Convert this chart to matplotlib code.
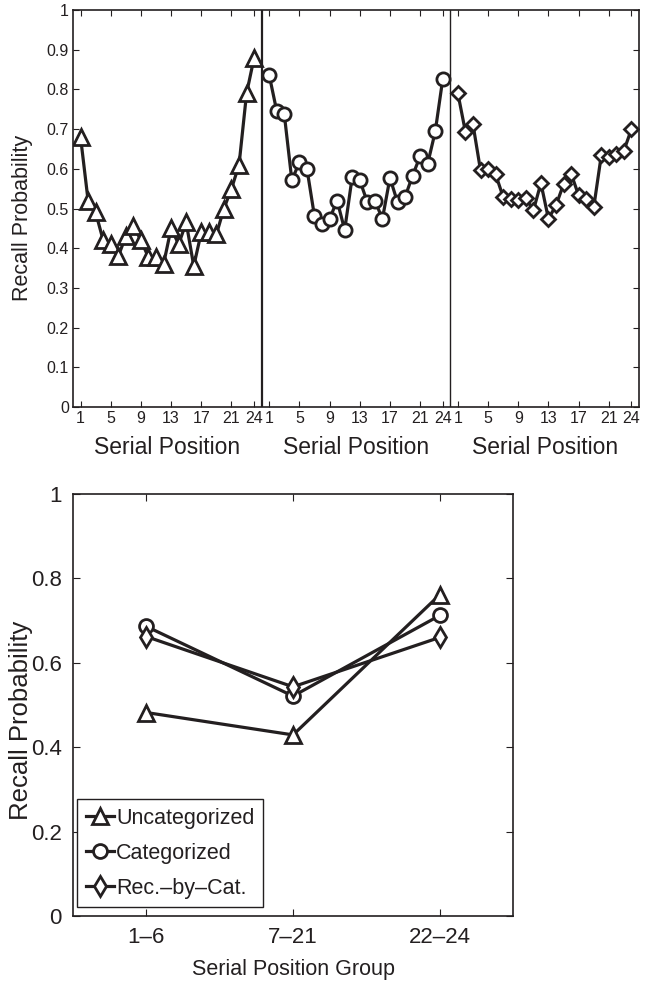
import matplotlib
matplotlib.use('Agg')
import matplotlib.pyplot as plt
from matplotlib.ticker import FuncFormatter
import numpy as np

plt.rcParams['font.family'] = ['Liberation Sans', 'DejaVu Sans']

# serial position curves (top panel)
positions = list(range(1, 25))
uncategorized = [0.68, 0.52, 0.49, 0.42, 0.41, 0.38, 0.43, 0.457, 0.42, 0.377, 0.377, 0.36,
                 0.45, 0.41, 0.465, 0.355, 0.44, 0.44, 0.435, 0.50, 0.55, 0.61, 0.79, 0.88]
categorized = [0.836, 0.745, 0.737, 0.571, 0.617, 0.60, 0.48, 0.46, 0.474, 0.52, 0.446, 0.58,
               0.571, 0.516, 0.52, 0.474, 0.577, 0.516, 0.529, 0.583, 0.632, 0.613, 0.694, 0.827]
rec_by_cat = [0.79, 0.693, 0.712, 0.596, 0.60, 0.586, 0.529, 0.524, 0.522, 0.527, 0.495, 0.564,
              0.474, 0.508, 0.561, 0.588, 0.533, 0.524, 0.503, 0.634, 0.63, 0.638, 0.646, 0.70]
tick_pos = [1, 5, 9, 13, 17, 21, 24]

# grouped (bottom panel)
groups = ['1\u20136', '7\u201321', '22\u201324']
grp_uncat = [0.482, 0.429, 0.761]
grp_cat = [0.686, 0.521, 0.712]
grp_rbc = [0.662, 0.543, 0.660]

col = '#231f20'
fmt = FuncFormatter(lambda v, p: ('%g' % round(v, 2)))

fig = plt.figure(figsize=(6.5, 9.81), dpi=100)

# ---- top panel
ax1 = fig.add_axes([0.1123, 0.5851, 0.8708, 0.4047])
series = [(uncategorized, '^', 12), (categorized, 'o', 9.5), (rec_by_cat, 'D', 7.5)]
xt, xl = [], []
for k, (vals, mk, ms) in enumerate(series):
    off = 25 * k
    ax1.plot([p + off for p in positions], vals, color=col, lw=2.3, marker=mk, ms=ms,
             mfc='white', mec=col, mew=2.0)
    xt += [t + off for t in tick_pos]
    xl += [str(t) for t in tick_pos]
    ax1.text(12.5 + off, -0.102, 'Serial Position', transform=ax1.get_xaxis_transform(),
             ha='center', va='center', fontsize=16.5, color=col)
ax1.axvline(25, color=col, lw=1.6)
ax1.axvline(50, color=col, lw=1.0)
ax1.set_xlim(0, 75)
ax1.set_ylim(0, 1)
ax1.set_xticks(xt)
ax1.set_xticklabels(xl)
ax1.set_yticks(np.arange(0, 1.01, 0.1))
ax1.yaxis.set_major_formatter(fmt)
ax1.tick_params(direction='in', top=True, right=True, length=4, labelsize=11.5, colors=col, pad=3)
ax1.set_ylabel('Recall Probability', fontsize=15.5, color=col)
ax1.yaxis.set_label_coords(-0.071, 0.476)
for s in ax1.spines.values():
    s.set_linewidth(1.2)
    s.set_color(col)

# ---- bottom panel
ax2 = fig.add_axes([0.1123, 0.0663, 0.677, 0.4302])
xg = [1, 2, 3]
ax2.plot(xg, grp_uncat, color=col, lw=2.3, marker='^', ms=12, mfc='white', mec=col, mew=2.0,
         label='Uncategorized')
ax2.plot(xg, grp_cat, color=col, lw=2.3, marker='o', ms=10, mfc='white', mec=col, mew=2.0,
         label='Categorized')
ax2.plot(xg, grp_rbc, color=col, lw=2.3, marker='d', ms=10.5, mfc='white', mec=col, mew=2.0,
         label='Rec.\u2013by\u2013Cat.')
ax2.set_xlim(0.5, 3.5)
ax2.set_ylim(0, 1)
ax2.set_xticks(xg)
ax2.set_xticklabels(groups)
ax2.set_yticks(np.arange(0, 1.01, 0.2))
ax2.yaxis.set_major_formatter(fmt)
ax2.tick_params(direction='in', top=True, right=True, length=5, labelsize=16, colors=col, pad=8)
ax2.set_xlabel('Serial Position Group', fontsize=15.5, color=col, labelpad=8)
ax2.set_ylabel('Recall Probability', fontsize=18.5, color=col)
ax2.yaxis.set_label_coords(-0.092, 0.464)
for s in ax2.spines.values():
    s.set_linewidth(1.2)
    s.set_color(col)
leg = ax2.legend(loc='lower left', fontsize=15.5, handlelength=1.3, handletextpad=0.1,
                 borderpad=0.4, labelspacing=0.65, fancybox=False, framealpha=1,
                 bbox_to_anchor=(0.0, 0.01), borderaxespad=0.2)
leg.get_frame().set_edgecolor(col)
leg.get_frame().set_linewidth(1.0)
for t in leg.get_texts():
    t.set_color(col)

fig.savefig('out.png', dpi=100)
